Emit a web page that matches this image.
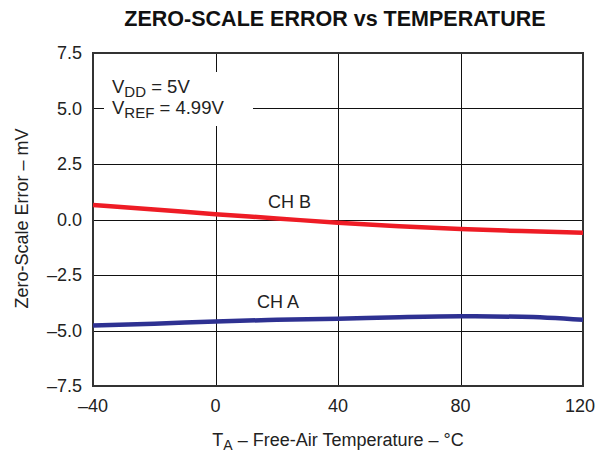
<!DOCTYPE html>
<html>
<head>
<meta charset="utf-8">
<script src="https://cdn.jsdelivr.net/npm/d3@7"></script>
<style>
  body { margin: 0; background: #fff; }
  svg { font-family: "Liberation Sans", Arial, sans-serif; }
</style>
</head>
<body>
<div id="chart"></div>
<script>
// temperature points (°C)
const temps = [-40, -20, 0, 20, 40, 60, 80, 100, 120];
// zero-scale error (mV)
const chB = [0.65, 0.45, 0.24, 0.05, -0.15, -0.3, -0.43, -0.52, -0.6];
const chA = [-4.77, -4.7, -4.59, -4.52, -4.47, -4.4, -4.36, -4.38, -4.52];

const xTicks = [-40, 0, 40, 80, 120];
const yTicks = [7.5, 5.0, 2.5, 0.0, -2.5, -5.0, -7.5];

const width = 596,
    height = 454;
const margin = { left: 93, right: 13, top: 53, bottom: 68 };

const svg = d3
    .select("#chart")
    .append("svg")
    .attr("width", width)
    .attr("height", height);

const x = d3
    .scaleLinear()
    .domain([-40, 120])
    .range([margin.left, width - margin.right]);

const y = d3
    .scaleLinear()
    .domain([-7.5, 7.5])
    .range([height - margin.bottom, margin.top]);

const fmt = (d, p) => (d < 0 ? "\u2013" : "") + Math.abs(d).toFixed(p);
const cx = (x(-40) + x(120)) / 2;

// grid
const grid = svg.append("g").attr("stroke", "#111").attr("stroke-width", 1);
grid.selectAll(".vg")
    .data(xTicks.slice(1, -1))
    .enter()
    .append("line")
    .attr("x1", (d) => Math.round(x(d)) + 0.5)
    .attr("x2", (d) => Math.round(x(d)) + 0.5)
    .attr("y1", y(7.5))
    .attr("y2", y(-7.5));
grid.selectAll(".hg")
    .data(yTicks.slice(1, -1))
    .enter()
    .append("line")
    .attr("x1", x(-40))
    .attr("x2", x(120))
    .attr("y1", (d) => Math.round(y(d)) + 0.5)
    .attr("y2", (d) => Math.round(y(d)) + 0.5);

// white box behind the conditions note
svg.append("rect")
    .attr("x", 104)
    .attr("y", 72)
    .attr("width", 149)
    .attr("height", 54)
    .attr("fill", "#fff");

// plot frame
svg.append("rect")
    .attr("x", x(-40))
    .attr("y", y(7.5))
    .attr("width", x(120) - x(-40))
    .attr("height", y(-7.5) - y(7.5))
    .attr("fill", "none")
    .attr("stroke", "#333")
    .attr("stroke-width", 2);

// curves
const line = d3
    .line()
    .x((d, i) => x(temps[i]))
    .y((d) => y(d))
    .curve(d3.curveMonotoneX);

svg.append("path")
    .datum(chB)
    .attr("d", line)
    .attr("fill", "none")
    .attr("stroke", "#ee1c25")
    .attr("stroke-width", 4.5);

svg.append("path")
    .datum(chA)
    .attr("d", line)
    .attr("fill", "none")
    .attr("stroke", "#2e3192")
    .attr("stroke-width", 4.5);

// tick labels
svg.selectAll(".yt")
    .data(yTicks)
    .enter()
    .append("text")
    .attr("x", 82)
    .attr("y", (d) => y(d) + 6)
    .attr("text-anchor", "end")
    .attr("font-size", 18)
    .attr("fill", "#222")
    .text((d) => fmt(d, 1));

// last label would run off the right edge, so right-align it there
svg.selectAll(".xt")
    .data(xTicks)
    .enter()
    .append("text")
    .attr("x", (d, i) => (i === xTicks.length - 1 ? width - 1 : x(d)))
    .attr("y", 412)
    .attr("text-anchor", (d, i) => (i === xTicks.length - 1 ? "end" : "middle"))
    .attr("font-size", 18)
    .attr("fill", "#222")
    .text((d) => fmt(d, 0));

// title
svg.append("text")
    .attr("x", cx - 3)
    .attr("y", 26)
    .attr("text-anchor", "middle")
    .attr("font-size", 21.5)
    .attr("font-weight", "bold")
    .attr("fill", "#111")
    .text("ZERO-SCALE ERROR vs TEMPERATURE");

// axis titles
svg.append("text")
    .attr("transform", "translate(28," + (y(0) - 1) + ") rotate(-90)")
    .attr("text-anchor", "middle")
    .attr("font-size", 18)
    .attr("fill", "#222")
    .text("Zero-Scale Error \u2013 mV");

const xl = svg
    .append("text")
    .attr("x", cx)
    .attr("y", 446)
    .attr("text-anchor", "middle")
    .attr("font-size", 18)
    .attr("fill", "#222");
xl.append("tspan").text("T");
xl.append("tspan").attr("font-size", 14).attr("dy", 4).text("A");
xl.append("tspan").attr("dy", -4).text(" \u2013 Free-Air Temperature \u2013 \u00b0C");

// conditions note
const note = [
    ["V", "DD", " = 5V", 93],
    ["V", "REF", " = 4.99V", 114],
];
note.forEach((n) => {
    const t = svg
        .append("text")
        .attr("x", 112)
        .attr("y", n[3])
        .attr("font-size", 18.5)
        .attr("fill", "#222");
    t.append("tspan").text(n[0]);
    t.append("tspan").attr("font-size", 15).attr("dy", 4).text(n[1]);
    t.append("tspan").attr("dy", -4).text(n[2]);
});

// series labels
svg.append("text")
    .attr("x", 289.5)
    .attr("y", 208)
    .attr("text-anchor", "middle")
    .attr("font-size", 18)
    .attr("fill", "#222")
    .text("CH B");
svg.append("text")
    .attr("x", 278)
    .attr("y", 307.5)
    .attr("text-anchor", "middle")
    .attr("font-size", 18)
    .attr("fill", "#222")
    .text("CH A");
</script>
</body>
</html>
